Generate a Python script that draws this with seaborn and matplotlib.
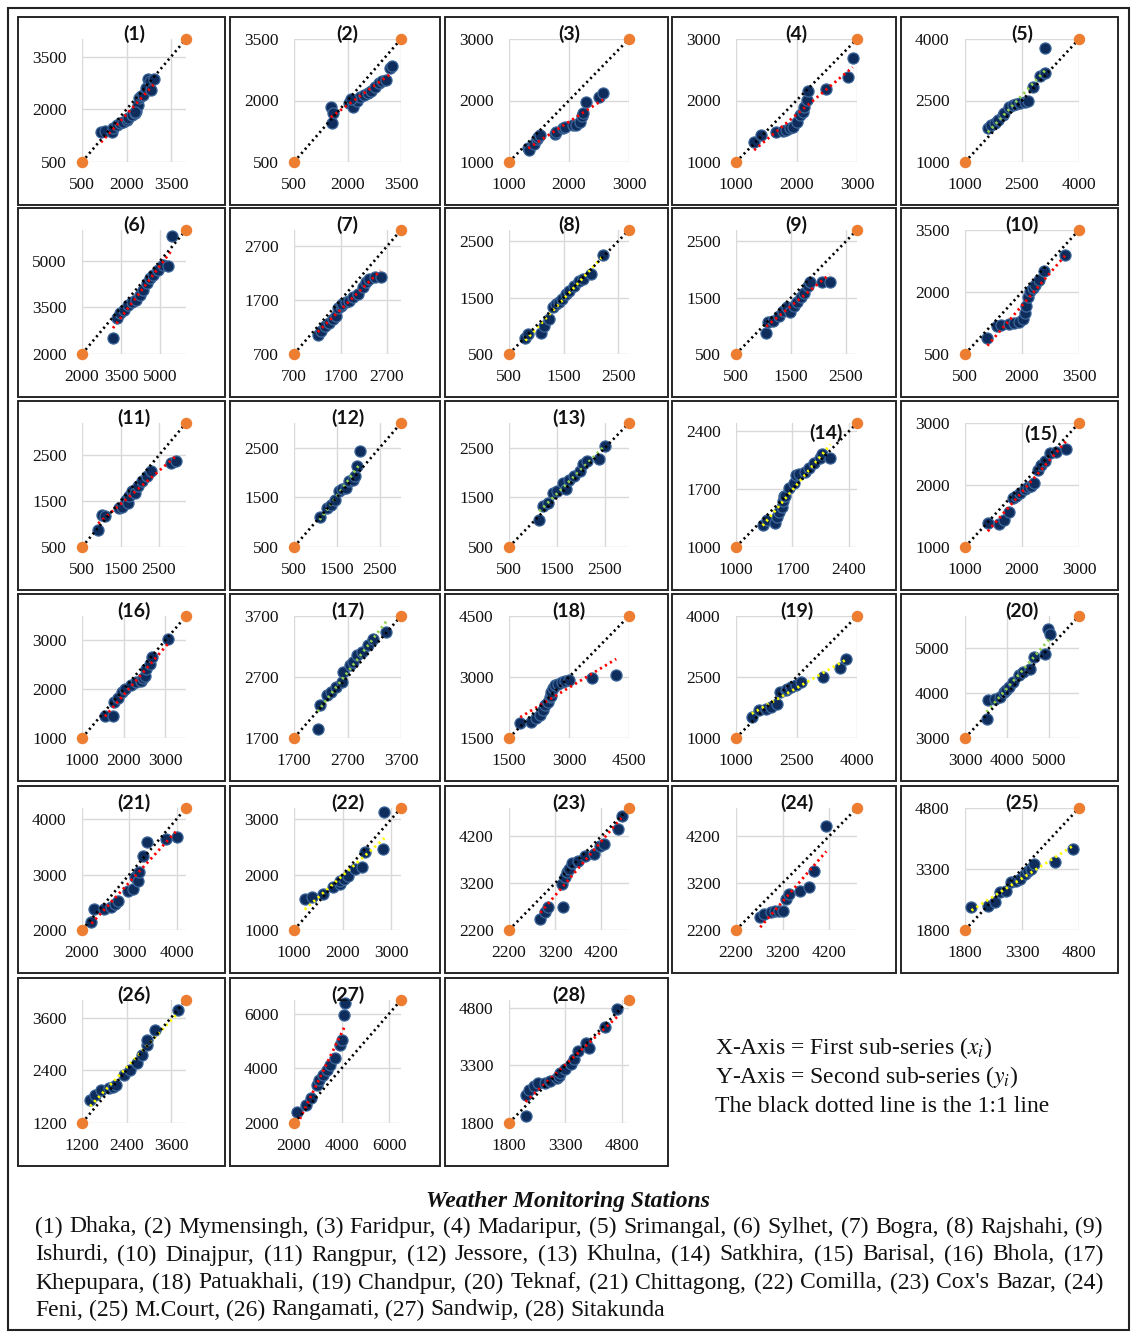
import numpy as np
import pandas as pd
import matplotlib
matplotlib.use("Agg")
import matplotlib.pyplot as plt
import seaborn as sns
from matplotlib.patches import Rectangle

sns.set_theme(style="white")
plt.rcParams['font.family'] = ['Liberation Serif', 'DejaVu Serif']
plt.rcParams['mathtext.fontset'] = 'stix'

# ---------------------------------------------------------------- data
station_names = ["Dhaka", "Mymensingh", "Faridpur", "Madaripur", "Srimangal", "Sylhet",
                 "Bogra", "Rajshahi", "Ishurdi", "Dinajpur", "Rangpur", "Jessore",
                 "Khulna", "Satkhira", "Barisal", "Bhola", "Khepupara", "Patuakhali",
                 "Chandpur", "Teknaf", "Chittagong", "Comilla", "Cox's Bazar", "Feni",
                 "M.Court", "Rangamati", "Sandwip", "Sitakunda"]

axis_min = [500, 500, 1000, 1000, 1000, 2000, 700, 500, 500, 500,
            500, 500, 500, 1000, 1000, 1000, 1700, 1500, 1000, 3000,
            2000, 1000, 2200, 2200, 1800, 1200, 2000, 1800]
axis_max = [4000, 3500, 3000, 3000, 4000, 6000, 3000, 2700, 2700, 3500,
            3200, 3000, 3000, 2500, 3000, 3500, 3700, 4500, 4000, 5700,
            4200, 3200, 4800, 4800, 4800, 4000, 6500, 5000]
axis_step = [1500, 1500, 1000, 1000, 1500, 1500, 1000, 1000, 1000, 1500,
             1000, 1000, 1000, 700, 1000, 1000, 1000, 1500, 1500, 1000,
             1000, 1000, 1000, 1000, 1500, 1200, 2000, 1500]

RED, YEL, GRN = "#FF0000", "#FFFF00", "#92D050"
trend_colors = [RED, RED, RED, RED, GRN, RED, RED, YEL, RED, RED,
                RED, GRN, GRN, YEL, RED, RED, GRN, RED, YEL, GRN,
                RED, YEL, RED, RED, YEL, YEL, RED, RED]

# first sub-series (x) and second sub-series (y) for each station
x_01 = [1140, 1260, 1500, 1560, 1670, 1780, 1890, 2000, 2060, 2170, 2280, 2330, 2370, 2410, 2480, 2560, 2670, 2720, 2780, 2920, 2830, 2300]
y_01 = [1360, 1380, 1360, 1460, 1550, 1600, 1650, 1700, 1750, 1840, 1890, 1940, 2130, 2320, 2370, 2420, 2610, 2850, 2800, 2850, 2560, 1920]
x_02 = [1530, 1580, 1560, 2050, 2160, 2260, 2360, 2470, 2570, 2670, 2780, 2880, 2980, 3090, 3190, 3250, 2090]
y_02 = [1840, 1700, 1460, 1940, 1840, 1990, 2080, 2130, 2180, 2230, 2320, 2420, 2470, 2510, 2800, 2850, 2030]
x_03 = [1320, 1330, 1420, 1460, 1480, 1510, 1760, 1790, 1900, 1930, 2070, 2120, 2180, 2210, 2240, 2290, 2500, 2570]
y_03 = [1220, 1190, 1300, 1380, 1410, 1440, 1460, 1490, 1550, 1570, 1600, 1600, 1650, 1740, 1790, 1980, 2060, 2120]
x_04 = [1300, 1420, 1660, 1770, 1830, 1890, 1950, 2010, 2050, 2100, 2130, 2170, 2190, 2490, 2850, 2930]
y_04 = [1330, 1440, 1490, 1500, 1520, 1550, 1570, 1650, 1770, 1820, 1900, 2010, 2150, 2180, 2390, 2690]
x_05 = [1600, 1690, 1790, 1880, 2010, 2030, 2160, 2260, 2350, 2440, 2580, 2670, 2780, 2970, 3100, 3100]
y_05 = [1820, 1900, 1940, 2020, 2140, 2190, 2350, 2390, 2410, 2430, 2460, 2490, 2840, 3090, 3170, 3780]
x_06 = [3190, 3350, 3460, 3620, 3770, 3920, 4080, 4230, 4350, 4500, 4620, 4730, 4920, 5120, 5310, 5460]
y_06 = [2520, 3160, 3320, 3420, 3580, 3680, 3740, 3900, 4060, 4290, 4450, 4550, 4710, 4870, 4840, 5810]
x_07 = [1210, 1290, 1370, 1450, 1530, 1600, 1650, 1700, 1730, 1810, 1890, 1970, 2080, 2180, 2240, 2320, 2450, 2560]
y_07 = [1060, 1130, 1220, 1280, 1340, 1410, 1560, 1590, 1630, 1660, 1690, 1750, 1810, 1940, 2030, 2090, 2130, 2130]
x_08 = [800, 850, 1080, 1150, 1240, 1300, 1370, 1410, 1470, 1540, 1600, 1690, 1790, 1860, 2010, 2220]
y_08 = [790, 850, 880, 1000, 1120, 1330, 1380, 1420, 1480, 1570, 1620, 1710, 1800, 1830, 1920, 2250]
x_09 = [1050, 1090, 1180, 1290, 1350, 1420, 1480, 1550, 1610, 1680, 1740, 1810, 1850, 2070, 2200]
y_09 = [880, 1060, 1090, 1180, 1270, 1330, 1240, 1360, 1420, 1510, 1590, 1710, 1770, 1770, 1770]
x_10 = [1090, 1330, 1460, 1650, 1780, 1930, 2020, 2080, 2110, 2150, 2200, 2300, 2330, 2440, 2570, 3130]
y_10 = [890, 1180, 1190, 1220, 1260, 1270, 1340, 1500, 1670, 1870, 2030, 2090, 2160, 2280, 2520, 2890]
x_11 = [920, 1010, 1110, 1450, 1540, 1630, 1690, 1730, 1790, 1880, 1950, 2070, 2200, 2290, 2820, 2950]
y_11 = [870, 1200, 1180, 1350, 1380, 1530, 1450, 1600, 1710, 1670, 1820, 1930, 2040, 2150, 2330, 2370]
x_12 = [1100, 1280, 1360, 1450, 1540, 1620, 1710, 1790, 1880, 1930, 1970, 2050]
y_12 = [1110, 1280, 1350, 1450, 1620, 1660, 1690, 1830, 1860, 1930, 2130, 2440]
x_13 = [1130, 1210, 1310, 1410, 1490, 1630, 1680, 1750, 1850, 1970, 2050, 2120, 2370, 2490]
y_13 = [1040, 1320, 1380, 1590, 1620, 1790, 1660, 1860, 1930, 2030, 2170, 2230, 2270, 2540]
x_14 = [1330, 1380, 1480, 1510, 1530, 1570, 1580, 1590, 1610, 1660, 1720, 1740, 1780, 1850, 1910, 1970, 2040, 2070, 2170]
y_14 = [1270, 1330, 1290, 1360, 1420, 1480, 1560, 1620, 1620, 1710, 1770, 1870, 1880, 1910, 1950, 2020, 2080, 2120, 2080]
x_15 = [1400, 1590, 1690, 1780, 1840, 1900, 1960, 2060, 2110, 2150, 2210, 2280, 2340, 2400, 2490, 2590, 2780]
y_15 = [1390, 1370, 1440, 1570, 1790, 1820, 1870, 1940, 1970, 1980, 2030, 2250, 2330, 2390, 2520, 2530, 2580]
x_16 = [1550, 1740, 1780, 1860, 1950, 2030, 2170, 2290, 2430, 2470, 2520, 2550, 2640, 2690, 3070]
y_16 = [1460, 1450, 1740, 1810, 1940, 2010, 2080, 2150, 2160, 2220, 2280, 2420, 2520, 2660, 3030]
x_17 = [2140, 2180, 2320, 2390, 2490, 2600, 2620, 2740, 2800, 2870, 2970, 3080, 3180, 3420]
y_17 = [1850, 2240, 2400, 2450, 2540, 2620, 2780, 2890, 2950, 3060, 3110, 3220, 3330, 3440]
x_18 = [1780, 2050, 2180, 2270, 2350, 2410, 2480, 2520, 2560, 2560, 2600, 2650, 2730, 2820, 2900, 2990, 3580, 4180]
y_18 = [1870, 1900, 1990, 2070, 2190, 2310, 2390, 2510, 2530, 2640, 2720, 2800, 2840, 2880, 2900, 2920, 2980, 3040]
x_19 = [1390, 1570, 1740, 1880, 2010, 2090, 2240, 2270, 2360, 2480, 2620, 3150, 3590, 3720]
y_19 = [1520, 1680, 1720, 1760, 1840, 2130, 2170, 2210, 2250, 2300, 2380, 2500, 2710, 2950]
x_20 = [3510, 3540, 3710, 3830, 3930, 3960, 4050, 4130, 4270, 4380, 4550, 4640, 4890, 4970, 5010]
y_20 = [3430, 3830, 3870, 3910, 4020, 4060, 4130, 4240, 4390, 4460, 4530, 4790, 4870, 5420, 5310]
x_21 = [2200, 2260, 2460, 2620, 2690, 2770, 2970, 3080, 3120, 3180, 3200, 3280, 3380, 3770, 4000]
y_21 = [2140, 2380, 2380, 2410, 2470, 2530, 2710, 2740, 2950, 2890, 3040, 3340, 3580, 3640, 3670]
x_22 = [1220, 1370, 1590, 1810, 1950, 1950, 2030, 2100, 2250, 2390, 2470, 2830, 2860]
y_22 = [1560, 1590, 1650, 1770, 1830, 1890, 1920, 1980, 2100, 2130, 2400, 2460, 3120]
x_23 = [2880, 2990, 3040, 3380, 3350, 3410, 3460, 3490, 3570, 3700, 3850, 4040, 4170, 4250, 4560, 4640]
y_23 = [2430, 2580, 2680, 2680, 3180, 3320, 3430, 3500, 3620, 3680, 3780, 3820, 4000, 4030, 4350, 4640]
x_24 = [2720, 2810, 2960, 3030, 3120, 3220, 3270, 3330, 3580, 3760, 3870, 4140]
y_24 = [2470, 2540, 2580, 2600, 2610, 2610, 2860, 2970, 3040, 3110, 3460, 4420]
x_25 = [1970, 2400, 2590, 2720, 2870, 3020, 3150, 3240, 3390, 3470, 3530, 3620, 4180, 4650]
y_25 = [2360, 2400, 2480, 2730, 2770, 2970, 3010, 3050, 3180, 3240, 3300, 3420, 3470, 3790]
x_26 = [1420, 1560, 1700, 1930, 2040, 2120, 2320, 2490, 2680, 2820, 2960, 2960, 3160, 3780]
y_26 = [1720, 1840, 1950, 2000, 2020, 2070, 2290, 2410, 2570, 2750, 2980, 3090, 3320, 3770]
x_27 = [2140, 2510, 2730, 2950, 3070, 3240, 3370, 3500, 3710, 3930, 4020, 4100, 4140]
y_27 = [2400, 2660, 2910, 3390, 3580, 3760, 3940, 4120, 4380, 4850, 5040, 5950, 6390]
x_28 = [2260, 2240, 2330, 2470, 2560, 2750, 2890, 3070, 3120, 3160, 3300, 3440, 3530, 3630, 3860, 3930, 4370, 4680]
y_28 = [1970, 2540, 2670, 2760, 2830, 2850, 2890, 2980, 3020, 3090, 3200, 3330, 3460, 3680, 3890, 3760, 4290, 4760]

first_series = [x_01, x_02, x_03, x_04, x_05, x_06, x_07, x_08, x_09, x_10, x_11, x_12, x_13, x_14,
                x_15, x_16, x_17, x_18, x_19, x_20, x_21, x_22, x_23, x_24, x_25, x_26, x_27, x_28]
second_series = [y_01, y_02, y_03, y_04, y_05, y_06, y_07, y_08, y_09, y_10, y_11, y_12, y_13, y_14,
                 y_15, y_16, y_17, y_18, y_19, y_20, y_21, y_22, y_23, y_24, y_25, y_26, y_27, y_28]

# ---------------------------------------------------------------- layout (pixels)
W, H = 1133, 1332
fig = plt.figure(figsize=(W / 100, H / 100), dpi=100)
fig.patch.set_facecolor("white")

COLS = [(18, 225), (230, 440), (445, 668), (672, 896), (901, 1118)]
ROWS = [(17, 205), (208, 397), (401, 590), (594, 781), (786, 973), (978, 1166)]
TITLE_POS = {13: (826, 433), 14: (1041, 434)}

DOTS = (0, (0.8, 1.3))
MARKER_FACE = "#0e2d5c"
MARKER_EDGE = "#3d6699"
ORANGE = "#ED7D31"


def fx(px):
    return px / W


def fy(py):
    return 1 - py / H


fig.add_artist(Rectangle((fx(8), fy(1330)), (1129 - 8) / W, (1330 - 8) / H,
                         transform=fig.transFigure, fill=False, ec="#222222", lw=1.5))

for i in range(28):
    r, c = divmod(i, 5)
    bx0, bx1 = COLS[c]
    by0, by1 = ROWS[r]
    fig.add_artist(Rectangle((fx(bx0), fy(by1)), (bx1 - bx0) / W, (by1 - by0) / H,
                             transform=fig.transFigure, fill=False, ec="#262626", lw=1.4))
    left, right, top, bottom = bx0 + 64, bx1 - 39, by0 + 22, by1 - 43
    ax = fig.add_axes([fx(left), fy(bottom), (right - left) / W, (bottom - top) / H])

    lo, hi, st = axis_min[i], axis_max[i], axis_step[i]
    ticks = np.arange(lo, hi + 1, st)
    ax.set_xlim(lo, hi)
    ax.set_ylim(lo, hi)
    ax.set_xticks(ticks)
    ax.set_yticks(ticks)
    ax.set_axisbelow(True)
    ax.grid(True, color="#d9d9d9", lw=1.0)
    for s in ax.spines.values():
        s.set_visible(False)
    ax.tick_params(axis="both", length=0, labelsize=12.5, colors="#111111")
    ax.tick_params(axis="y", pad=11)
    ax.tick_params(axis="x", pad=10.5)

    df = pd.DataFrame({"x": first_series[i], "y": second_series[i]})
    sns.scatterplot(data=df, x="x", y="y", ax=ax, s=64, color=MARKER_FACE,
                    edgecolor=MARKER_EDGE, linewidth=0.9, zorder=3, clip_on=False)
    sns.regplot(data=df, x="x", y="y", ax=ax, scatter=False, ci=None, truncate=True,
                line_kws=dict(color=trend_colors[i], lw=2.0, ls=DOTS, zorder=4))
    ax.plot([lo, hi], [lo, hi], color="black", lw=1.9, ls=DOTS, zorder=5, clip_on=False)
    ax.scatter([lo, hi], [lo, hi], s=68, color=ORANGE, zorder=6, clip_on=False, linewidths=0)
    ax.set_xlabel("")
    ax.set_ylabel("")

    tx, ty = TITLE_POS.get(i, ((left + right) / 2, by0 + 17))
    fig.text(fx(tx), fy(ty), f"({i + 1})", ha="center", va="center",
             fontsize=14, fontweight="bold", family=["Lato", "DejaVu Sans"], color="#111111")

# ---------------------------------------------------------------- notes
notes = [r"X-Axis = First sub-series ($x_i$)",
         r"Y-Axis = Second sub-series ($y_i$)",
         "The black dotted line is the 1:1 line"]
for k, line in enumerate(notes):
    fig.text(fx(715), fy(1048 + 29 * k), line, ha="left", va="center", fontsize=17, color="#111111")

fig.text(fx(568), fy(1201), "Weather Monitoring Stations", ha="center", va="center",
         fontsize=17, fontweight="bold", fontstyle="italic", color="#111111")

words = []
for n, name in enumerate(station_names):
    words.append(f"({n + 1})")
    tail = "" if n == len(station_names) - 1 else ","
    words.extend((name + tail).split(" "))

words_per_line = [17, 16, 15, 9]
line_y = [1227, 1255, 1283, 1310]
renderer = fig.canvas.get_renderer()
FS = 17
x_left, x_right = 35, 1103
pos = 0
for li, count in enumerate(words_per_line):
    chunk = words[pos:pos + count]
    pos += count
    items = []
    widths = []
    for w in chunk:
        t = fig.text(0, fy(line_y[li]), w, ha="left", va="center", fontsize=FS, color="#111111")
        items.append(t)
        widths.append(t.get_window_extent(renderer).width)
    if li < len(words_per_line) - 1:
        gap = (x_right - x_left - sum(widths)) / (len(chunk) - 1)
    else:
        gap = 0.25 * FS * 100 / 72
    xx = x_left
    for t, wd in zip(items, widths):
        t.set_x(fx(xx))
        xx += wd + gap

fig.savefig("out.png", dpi=100, facecolor="white")
